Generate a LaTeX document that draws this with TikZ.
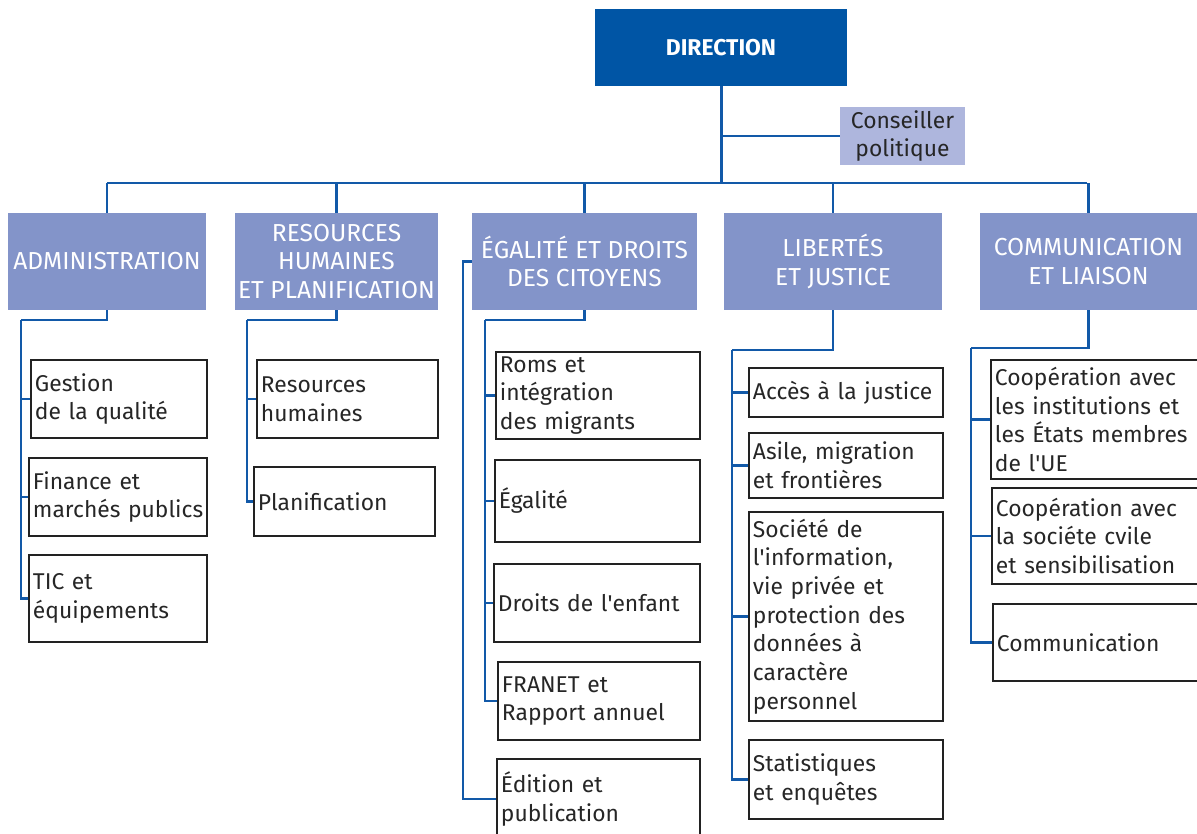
\documentclass[tikz,border=0pt]{standalone}
\usepackage{fontspec}
\setmainfont{Fira Sans}
\usepackage{xcolor}
\usepackage{tikz}

\definecolor{dirBlue}{HTML}{0055A5}
\definecolor{deptBlue}{HTML}{8394C9}
\definecolor{advisorBlue}{HTML}{AEB6DD}
\definecolor{linkBlue}{HTML}{1259A8}
\definecolor{boxGrey}{HTML}{222222}

\newcommand{\pxUnit}{0.02}
\newcommand{\unitFont}{\fontsize{13}{16.3}\selectfont\hyphenpenalty=10000\relax}
\newcommand{\deptFont}{\fontsize{14}{16.3}\selectfont}
\newcommand{\apos}{\textquotesingle{}}
% number/left/top/width/height/text (in pixels)
\newcommand{\adminUnits}{1/30/359/176/78/{Gestion\\de la qualité}, 2/28/457/178/78/{Finance et\\\mbox{marchés publics}}, 3/28/554/178/87/{TIC et\\équipements}}
\newcommand{\hrUnits}{1/256/359/181/78/{Resources\\humaines}, 2/253/466/181/69/{Planification}}
\newcommand{\equalityUnits}{1/495/351/204/87/{Roms et\\intégration\\des migrants}, 2/494/459/205/82/{Égalité}, 3/493/563/206/78/{Droits de l\apos enfant}, 4/497/661/202/78/{FRANET et\\Rapport annuel}}
\newcommand{\justiceUnits}{1/748/367/194/49/{Accès à la justice}, 2/748/432/194/65/{Asile, migration\\et frontières}, 3/748/511/194/209/{Société de\\l\apos information,\\vie privée et\\protection des\\données à\\caractère\\personnel}, 4/748/739/194/79/{Statistiques\\et enquêtes}}
\newcommand{\liaisonUnits}{1/990/359/215/119/{Coopération avec\\les institutions et\\les États membres\\de l\apos UE}, 2/991/487/214/96/{Coopération avec\\la sociéte cvile\\et sensibilisation}, 3/992/603/213/77/{Communication}}

\tikzset{
	unitbox/.style={draw=boxGrey, line width=1.1pt, anchor=north west, align=left, inner xsep=0.08cm, inner ysep=0pt, font=\unitFont, text=black!85},
	dept/.style={fill=deptBlue, minimum height=1.94cm, align=center, inner sep=0pt, font=\deptFont, text=white},
	link/.style={draw=linkBlue, line width=1.3pt},
	bus/.style={draw=linkBlue, line width=1.7pt}
}

\newcommand{\drawUnits}[2]{%
	\foreach \i/\x/\y/\w/\h/\txt in #2
	{
		\pgfmathsetmacro{\wcm}{\w*\pxUnit}
		\pgfmathsetmacro{\hcm}{\h*\pxUnit}
		\pgfmathsetmacro{\tcm}{\w*\pxUnit-0.16}
		\node[unitbox, minimum width=\wcm cm, minimum height=\hcm cm, text width=\tcm cm] (#1-\i) at (\x,\y) {\txt};
	}%
}

\begin{document}
\begin{tikzpicture}[x=0.02cm, y=-0.02cm]
	\useasboundingbox (0,0) rectangle (1197,834);

	% top
	\node[fill=dirBlue, minimum width=5.04cm, minimum height=1.54cm, inner sep=0pt, text=white, font=\fontsize{13}{16}\selectfont\bfseries] (direction) at (721,47.5) {DIRECTION};
	\node[fill=advisorBlue, minimum width=2.5cm, minimum height=1.16cm, inner sep=0pt, align=center, font=\unitFont, text=black!85] (advisor) at (902.5,136) {Conseiller\\politique};

	% departments
	\node[dept, minimum width=3.96cm] (admin) at (107,261.5) {ADMINISTRATION};
	\node[dept, minimum width=4.06cm] (hr) at (336.5,261.5) {RESOURCES\\HUMAINES\\ET PLANIFICATION};
	\node[dept, minimum width=4.5cm] (equality) at (584.5,261.5) {ÉGALITÉ ET DROITS\\DES CITOYENS};
	\node[dept, minimum width=4.36cm] (justice) at (833,261.5) {LIBERTÉS\\ET JUSTICE};
	\node[dept, minimum width=4.34cm] (liaison) at (1088.5,261.5) {COMMUNICATION\\ET LIAISON};

	\coordinate (busLeft) at (107,183);
	\coordinate (busRight) at (1087,183);
	\draw[bus] (direction.south) -- (direction.south |- busLeft);
	\draw[bus] (busLeft) -- (busRight);
	\draw[link] (direction.south |- advisor.west) -- (advisor.west);
	\foreach \dept in {admin, hr, equality, justice, liaison}
		\draw[link] (\dept.north |- busLeft) -- (\dept.north);

	% units
	\drawUnits{admin}{\adminUnits}
	\drawUnits{hr}{\hrUnits}
	\drawUnits{equality}{\equalityUnits}
	\drawUnits{justice}{\justiceUnits}
	\drawUnits{liaison}{\liaisonUnits}
	\node[unitbox, minimum width=4.06cm, minimum height=1.6cm, text width=3.9cm] (equality-5) at (496,758) {Édition et\\publication};

	% spines
	\coordinate (adminSpine) at (21,320);
	\coordinate (hrSpine) at (247,320);
	\coordinate (equalitySpine) at (485,320);
	\coordinate (equalityOuter) at (463,261.5);
	\coordinate (justiceSpine) at (732,350);
	\coordinate (liaisonSpine) at (971,348);

	\draw[link] (admin.south) |- (adminSpine);
	\foreach \i in {1,2,3}
		\draw[link] (adminSpine) |- (admin-\i.west);
	\draw[link] (hr.south) |- (hrSpine);
	\foreach \i in {1,2}
		\draw[link] (hrSpine) |- (hr-\i.west);
	\draw[link] (equality.south) |- (equalitySpine);
	\foreach \i in {1,...,4}
		\draw[link] (equalitySpine) |- (equality-\i.west);
	\draw[link] (equality.west) -- (equalityOuter) |- (equality-5.west);
	\draw[link] (justice.south) |- (justiceSpine);
	\foreach \i in {1,...,4}
		\draw[link] (justiceSpine) |- (justice-\i.west);
	\draw[link] (liaison.south) |- (liaisonSpine);
	\foreach \i in {1,2,3}
		\draw[link] (liaisonSpine) |- (liaison-\i.west);
\end{tikzpicture}
\end{document}
